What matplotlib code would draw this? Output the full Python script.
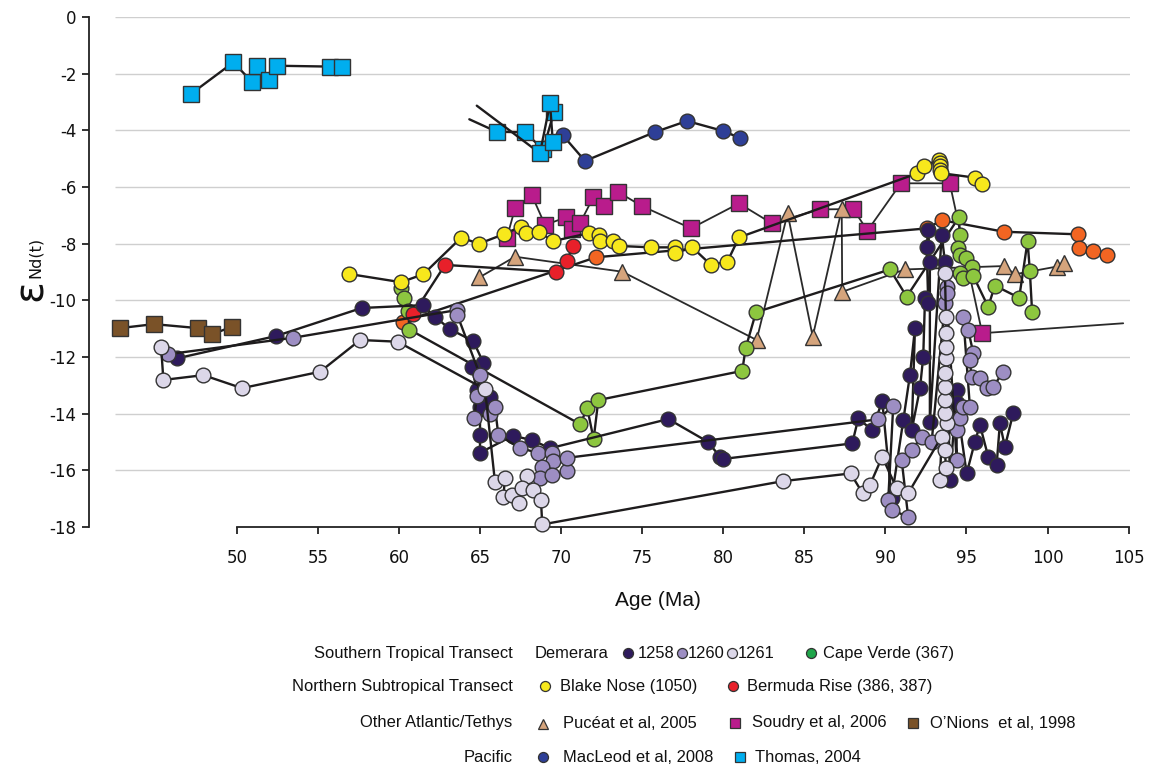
import numpy as np
import matplotlib.pyplot as plt
from matplotlib.lines import Line2D

plt.rcParams["axes.unicode_minus"] = False

# ---- Demerara Rise (ODP Leg 207) ----
s1258_age = [46.27, 52.39, 57.68, 61.44, 62.20, 63.13, 64.57, 65.18, 64.47, 64.78, 65.60,
             64.98, 64.98, 64.98, 67.00, 68.17, 69.30, 76.60, 79.03, 79.79, 79.95, 87.95,
             88.32, 89.18, 89.80, 90.38, 91.10, 91.51, 91.82, 91.62, 92.13, 92.33, 92.44,
             92.64, 92.54, 92.64, 92.74, 92.74, 93.47, 93.67, 93.98, 94.39, 94.39, 95.01,
             95.52, 95.83, 96.34, 96.86, 97.06, 97.37, 97.88]
s1258_end = [-12.05, -11.26, -10.27, -10.17, -10.58, -11.02, -11.44, -12.20, -12.34, -13.17, -13.40,
             -13.76, -14.75, -15.38, -14.78, -14.93, -15.22, -14.19, -14.99, -15.52, -15.60, -15.05,
             -14.17, -14.58, -13.55, -16.99, -14.23, -12.64, -10.99, -14.58, -13.11, -11.99, -9.93,
             -10.11, -8.11, -7.52, -8.64, -14.29, -7.69, -8.64, -16.34, -13.17, -13.62, -16.11,
             -14.99, -14.40, -15.52, -15.81, -14.34, -15.17, -13.99]

s1260_age = [45.75, 53.46, 63.58, 63.58, 64.98, 64.78, 64.63, 65.60, 65.90, 66.11, 67.45,
             68.58, 69.40, 69.50, 68.79, 68.68, 69.44, 70.33, 70.33, 89.55, 90.48, 90.17,
             90.38, 91.40, 91.00, 91.62, 92.23, 92.85, 93.67, 93.77, 93.77, 94.39, 94.39,
             94.59, 94.80, 95.21, 94.80, 95.11, 95.42, 95.21, 95.31, 95.83, 96.24, 96.65, 97.27]
s1260_end = [-11.90, -11.32, -10.34, -10.52, -12.64, -13.38, -14.17, -14.01, -13.76, -14.75, -15.22,
             -15.38, -15.38, -15.67, -15.89, -16.28, -16.17, -16.01, -15.56, -14.20, -13.72, -17.05,
             -17.40, -17.64, -15.64, -15.28, -14.81, -14.99, -10.11, -9.52, -9.75, -15.64, -14.58,
             -14.17, -13.76, -13.76, -10.58, -11.05, -11.87, -12.11, -12.70, -12.75, -13.11, -13.05, -12.52]

s1261_age = [45.30, 45.44, 47.91, 50.29, 55.11, 57.58, 59.90, 65.29, 65.90, 66.52, 66.42,
             66.94, 67.40, 67.86, 67.55, 68.27, 68.74, 68.82, 83.69, 87.85, 88.59, 89.04,
             89.80, 90.69, 91.40, 93.47, 93.36, 93.73, 93.67, 93.77, 93.67, 93.67, 93.67,
             93.67, 93.73, 93.73, 93.73, 93.73, 93.67]
s1261_end = [-11.64, -12.81, -12.64, -13.10, -12.52, -11.40, -11.46, -13.14, -16.40, -16.28, -16.93,
             -16.87, -17.17, -16.20, -16.64, -16.70, -17.05, -17.91, -16.38, -16.11, -16.81, -16.52,
             -15.52, -16.64, -16.81, -14.81, -16.34, -15.93, -15.28, -14.34, -13.99, -13.52, -13.05,
             -12.58, -12.05, -11.64, -11.16, -10.58, -9.05]

# ---- Cape Verde (DSDP 367) ----
cape_verde_age = [60.10, 60.31, 60.56, 60.62, 71.15, 71.60, 71.99, 72.28, 81.16, 81.37, 82.01,
                  90.28, 91.31, 94.53, 94.59, 94.49, 94.59, 94.96, 95.31, 94.59, 94.80, 95.42,
                  96.34, 96.75, 98.25, 98.77, 98.91, 99.05]
cape_verde_end = [-9.58, -9.93, -10.36, -11.03, -14.37, -13.81, -14.90, -13.52, -12.49, -11.69, -10.42,
                  -8.91, -9.87, -7.07, -7.69, -8.16, -8.40, -8.52, -8.81, -9.05, -9.22, -9.14,
                  -10.23, -9.48, -9.91, -7.91, -8.97, -10.42]

# ---- Blake Nose (ODP 1050) ----
blake_age = [56.90, 60.10, 61.48, 63.81, 64.92, 66.48, 67.49, 67.80, 68.64, 69.48, 71.70,
             72.30, 72.38, 73.20, 73.54, 75.53, 77.01, 77.01, 78.08, 79.21, 80.24, 80.96,
             91.96, 92.37, 93.30, 93.36, 93.36, 93.39, 93.42, 95.52, 95.95]
blake_end = [-9.07, -9.36, -9.08, -7.79, -8.00, -7.66, -7.40, -7.61, -7.59, -7.91, -7.63,
             -7.71, -7.90, -7.90, -8.08, -8.13, -8.13, -8.34, -8.13, -8.74, -8.64, -7.78,
             -5.52, -5.25, -5.05, -5.15, -5.26, -5.40, -5.51, -5.67, -5.91]

# ---- Bermuda Rise (DSDP 386, 387) ----
bermuda386_age = [60.86, 62.82, 69.65, 70.33, 70.74]
bermuda386_end = [-10.48, -8.75, -8.99, -8.60, -8.07]
bermuda387_age = [60.21, 72.14, 92.57, 93.47, 97.31, 101.89, 101.94, 102.82, 103.65]
bermuda387_end = [-10.76, -8.48, -7.46, -7.17, -7.58, -7.67, -8.14, -8.26, -8.40]

# ---- Other Atlantic / Tethys ----
puceat_age = [64.94, 67.14, 73.76, 82.05, 83.96, 85.51, 87.30, 87.33, 91.20, 97.31, 97.99, 100.56, 101.01]
puceat_end = [-9.19, -8.46, -8.99, -11.40, -6.93, -11.28, -6.79, -9.70, -8.91, -8.79, -9.08, -8.81, -8.69]

soudry_age = [66.63, 67.14, 68.17, 68.99, 70.29, 70.64, 71.15, 71.97, 72.63, 73.48, 74.96,
              78.00, 80.96, 82.98, 85.96, 88.01, 88.89, 90.95, 93.97, 95.97, 104.67]
soudry_end = [-7.81, -6.75, -6.28, -7.34, -7.07, -7.49, -7.28, -6.36, -6.67, -6.17, -6.67,
              -7.46, -6.58, -7.28, -6.79, -6.78, -7.54, -5.87, -5.87, -11.16, -10.81]

onions_age = [42.76, 44.86, 47.56, 48.46, 49.65]
onions_end = [-10.98, -10.84, -10.98, -11.19, -10.94]

# ---- Pacific ----
# first point is the last Thomas square the record links to
macleod_age = [69.47, 70.08, 71.46, 75.78, 77.75, 79.97, 81.02]
macleod_end = [-4.40, -4.17, -5.08, -4.06, -3.67, -4.02, -4.27]

thomas_a_age = [47.13, 49.76, 50.89, 51.24, 51.98, 52.44, 55.72, 56.48]
thomas_a_end = [-2.72, -1.60, -2.28, -1.72, -2.22, -1.72, -1.75, -1.75]
thomas_b_age = [64.32, 66.01, 67.74, 68.88, 69.55]
thomas_b_end = [-3.61, -4.05, -4.07, -4.67, -3.34]
thomas_c_age = [64.78, 68.68, 69.30, 69.47]
thomas_c_end = [-3.13, -4.81, -3.05, -4.40]

x_ticks = list(range(50, 106, 5))
y_ticks = list(range(-18, 1, 2))
grid_levels = list(range(-16, 1, 2))

C1258, C1260, C1261 = "#2e1a5c", "#9d8ec3", "#dcd7e9"
CVERDE, CVERDE_KEY = "#8dc63f", "#1fa64a"
CBLAKE, CBERM, CBERM2 = "#f7e81c", "#e8202a", "#f26522"
CPUC, CSOU, CONI = "#d5a47c", "#b91c8c", "#7a5228"
CMAC, CTHO = "#2e3f97", "#00aeef"
EDGE = "#333333"
LINE = "#1e1c1d"

fig = plt.figure(figsize=(11.55, 7.72), dpi=100)
ax = fig.add_axes([89 / 1155, 1 - 527 / 772, 1041 / 1155, 510 / 772])
ax.set_xlim(40.85, 105.09)
ax.set_ylim(-18, 0)

ax.hlines(grid_levels, 42.46, 105.09, color="#cfcfcf", lw=1.0, zorder=0)

z = [2]


def series(age, end, color, marker="o", ms=10.6, lw=1.7, lc=LINE, skip_first=0, skip_last=0):
    z[0] += 1
    ax.plot(age, end, "-", color=lc, lw=lw, zorder=z[0], solid_capstyle="round")
    n = len(age)
    ax.plot(age[skip_first:n - skip_last], end[skip_first:n - skip_last], ls="none",
            marker=marker, ms=ms, mfc=color, mec=EDGE, mew=1.0, zorder=z[0], clip_on=False)


series(soudry_age, soudry_end, CSOU, "s", 11, lw=1.3, lc="#2a2a2a", skip_last=1)
series(puceat_age, puceat_end, CPUC, "^", 11.5, lw=1.3, lc="#2a2a2a")
series(bermuda387_age, bermuda387_end, CBERM2)
series(cape_verde_age, cape_verde_end, CVERDE)
series(blake_age, blake_end, CBLAKE)
series(bermuda386_age, bermuda386_end, CBERM)
series(s1258_age, s1258_end, C1258)
series(s1260_age, s1260_end, C1260)
series(s1261_age, s1261_end, C1261)
series(onions_age, onions_end, CONI, "s", 11)
series(macleod_age, macleod_end, CMAC, skip_first=1)
series(thomas_a_age, thomas_a_end, CTHO, "s", 11)
series(thomas_b_age, thomas_b_end, CTHO, "s", 11, skip_first=1)
series(thomas_c_age, thomas_c_end, CTHO, "s", 11, skip_first=1)

# axes styling
for side in ("top", "right"):
    ax.spines[side].set_visible(False)
ax.spines["bottom"].set_bounds(50, 105)
for side in ("left", "bottom"):
    ax.spines[side].set_linewidth(1.3)
    ax.spines[side].set_color("#222222")
ax.set_xticks(x_ticks)
ax.set_yticks(y_ticks)
ax.tick_params(axis="both", direction="out", length=5, width=1.3, color="#222222",
               labelsize=12, labelcolor="#111111")
ax.tick_params(axis="x", pad=11)
ax.tick_params(axis="y", pad=4)

fig.text(658 / 1155, 1 - 600 / 772, "Age (Ma)", ha="center", va="center",
         fontsize=15, family="Liberation Sans", color="#111111")
fig.text(31 / 1155, 1 - 290 / 772, "ε", rotation=90, ha="center", va="center",
         fontsize=29, color="#111111")
fig.text(35 / 1155, 1 - 257 / 772, "Nd(t)", rotation=90, ha="center", va="center",
         fontsize=11.5, color="#111111")

# ---- key below the plot ----
W, H = 1155.0, 772.0
LEG = dict(fontsize=11.9, family="Liberation Sans", color="#111111", va="baseline")


def key_text(x, y, s, ha="left"):
    fig.text(x / W, 1 - y / H, s, ha=ha, **LEG)


def key_mark(x, y, color, marker="o", ms=7.2):
    fig.add_artist(Line2D([x / W], [1 - y / H], transform=fig.transFigure, ls="none",
                          marker=marker, ms=ms, mfc=color, mec=EDGE, mew=0.9))


rows = [("Southern Tropical Transect", 657.7), ("Northern Subtropical Transect", 691.0),
        ("Other Atlantic/Tethys", 727.5), ("Pacific", 761.7)]
for label, yb in rows:
    key_text(512.7, yb, label, ha="right")

y1, y2, y3, y4 = 652.5, 686.0, 722.5, 756.5
key_text(535, 657.7, "Demerara")
key_mark(628, y1, C1258)
key_text(638, 657.7, "1258")
key_mark(682, y1, C1260)
key_text(688, 657.7, "1260")
key_mark(732, y1, C1261)
key_text(738, 657.7, "1261")
key_mark(811, y1, CVERDE_KEY)
key_text(823, 657.7, "Cape Verde (367)")

key_mark(545, y2, CBLAKE)
key_text(560, 691.0, "Blake Nose (1050)")
key_mark(733, y2, CBERM)
key_text(746.7, 691.0, "Bermuda Rise (386, 387)")

key_mark(542.7, y3 + 1, CPUC, "^", 7.8)
key_text(563.3, 727.5, "Pucéat et al, 2005")
key_mark(735, y3, CSOU, "s", 7.2)
key_text(751.7, 727.5, "Soudry et al, 2006")
key_mark(912.7, y3, CONI, "s", 7.2)
key_text(930, 727.5, "O’Nions  et al, 1998")

key_mark(542.7, y4, CMAC)
key_text(563.3, 761.7, "MacLeod et al, 2008")
key_mark(740, y4, CTHO, "s", 7.2)
key_text(755, 761.7, "Thomas, 2004")

fig.savefig("out.png", dpi=100, facecolor="white")
